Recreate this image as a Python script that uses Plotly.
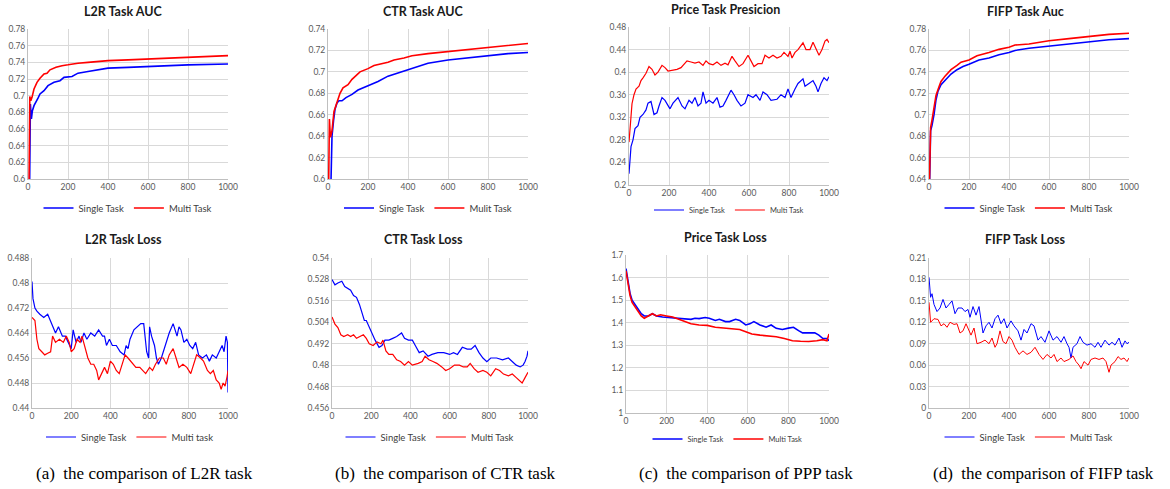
import plotly.graph_objects as go

W, H = 1170, 489

# ---------------- data ----------------
# (a) L2R AUC
l2r_auc_single_x = [8, 12, 17, 22, 30, 40, 50, 60, 80, 100, 130, 160, 180, 220, 250, 300, 350, 400, 500, 600, 700, 800, 1000]
l2r_auc_single_y = [0.59, 0.69, 0.672, 0.682, 0.688, 0.692, 0.697, 0.702, 0.706, 0.712, 0.716, 0.718, 0.722, 0.723, 0.727, 0.729, 0.731, 0.733, 0.734, 0.735, 0.736, 0.737, 0.738]
l2r_auc_multi_x = [5, 9, 14, 20, 30, 45, 60, 80, 95, 110, 140, 170, 200, 250, 300, 400, 500, 600, 700, 800, 1000]
l2r_auc_multi_y = [0.59, 0.699, 0.694, 0.698, 0.708, 0.716, 0.721, 0.726, 0.727, 0.731, 0.734, 0.736, 0.737, 0.739, 0.740, 0.742, 0.743, 0.744, 0.745, 0.746, 0.748]

# (b) CTR AUC
ctr_auc_single_x = [14, 20, 28, 35, 45, 55, 70, 90, 120, 150, 200, 250, 300, 350, 400, 450, 500, 600, 700, 800, 900, 1000]
ctr_auc_single_y = [0.59, 0.64, 0.655, 0.665, 0.671, 0.673, 0.673, 0.676, 0.679, 0.683, 0.687, 0.691, 0.696, 0.699, 0.702, 0.705, 0.708, 0.711, 0.713, 0.715, 0.717, 0.718]
ctr_auc_multi_x = [3, 7, 12, 20, 30, 45, 60, 75, 100, 120, 160, 200, 230, 300, 330, 380, 420, 500, 600, 700, 800, 900, 1000]
ctr_auc_multi_y = [0.59, 0.656, 0.639, 0.645, 0.663, 0.672, 0.680, 0.685, 0.688, 0.693, 0.700, 0.703, 0.706, 0.709, 0.711, 0.713, 0.715, 0.717, 0.719, 0.721, 0.723, 0.725, 0.7265]

# (c) Price precision
price_prec_single_x = [0, 10, 20, 30, 45, 55, 70, 85, 95, 110, 125, 140, 150, 165, 180, 195, 205, 220, 245, 265, 280, 300, 315, 330, 345, 360, 370, 385, 400, 420, 440, 455, 470, 485, 510, 525, 540, 560, 580, 595, 620, 635, 655, 670, 690, 710, 740, 760, 780, 795, 810, 830, 845, 870, 880, 900, 920, 935, 945, 960, 975, 990, 1000]
price_prec_single_y = [0.22, 0.268, 0.28, 0.30, 0.305, 0.32, 0.325, 0.333, 0.345, 0.348, 0.325, 0.328, 0.34, 0.355, 0.35, 0.34, 0.335, 0.345, 0.355, 0.34, 0.335, 0.35, 0.345, 0.355, 0.34, 0.345, 0.365, 0.345, 0.35, 0.345, 0.355, 0.338, 0.34, 0.35, 0.368, 0.36, 0.35, 0.34, 0.345, 0.36, 0.355, 0.36, 0.35, 0.365, 0.36, 0.35, 0.352, 0.36, 0.355, 0.37, 0.355, 0.37, 0.38, 0.388, 0.375, 0.38, 0.385, 0.375, 0.365, 0.38, 0.39, 0.385, 0.392]
price_prec_multi_x = [0, 15, 25, 35, 50, 60, 70, 85, 100, 115, 130, 145, 165, 180, 195, 220, 240, 260, 290, 310, 330, 350, 370, 385, 400, 420, 440, 460, 480, 495, 515, 530, 550, 570, 595, 610, 625, 645, 665, 680, 700, 720, 740, 760, 775, 795, 805, 815, 830, 845, 870, 885, 905, 920, 935, 950, 965, 980, 990, 1000]
price_prec_multi_y = [0.276, 0.344, 0.36, 0.37, 0.375, 0.385, 0.39, 0.398, 0.41, 0.405, 0.395, 0.40, 0.412, 0.408, 0.402, 0.404, 0.405, 0.408, 0.42, 0.418, 0.416, 0.418, 0.412, 0.42, 0.415, 0.413, 0.418, 0.412, 0.416, 0.413, 0.428, 0.42, 0.41, 0.415, 0.43, 0.42, 0.41, 0.415, 0.415, 0.43, 0.425, 0.43, 0.425, 0.428, 0.435, 0.428, 0.437, 0.425, 0.435, 0.44, 0.452, 0.44, 0.44, 0.453, 0.44, 0.43, 0.44, 0.455, 0.458, 0.452]

# (d) FIFP AUC
fifp_auc_single_x = [3, 8, 15, 25, 35, 45, 60, 80, 95, 110, 140, 170, 200, 250, 300, 350, 400, 430, 500, 600, 700, 800, 900, 1000]
fifp_auc_single_y = [0.635, 0.685, 0.69, 0.70, 0.714, 0.722, 0.728, 0.732, 0.734, 0.738, 0.742, 0.745, 0.747, 0.751, 0.753, 0.756, 0.758, 0.760, 0.762, 0.764, 0.766, 0.768, 0.770, 0.771]
fifp_auc_multi_x = [2, 8, 15, 25, 35, 50, 60, 80, 95, 110, 140, 160, 200, 240, 300, 350, 400, 430, 500, 600, 700, 800, 900, 1000]
fifp_auc_multi_y = [0.635, 0.688, 0.695, 0.705, 0.718, 0.726, 0.731, 0.736, 0.739, 0.742, 0.746, 0.749, 0.751, 0.755, 0.758, 0.761, 0.763, 0.765, 0.766, 0.769, 0.771, 0.773, 0.775, 0.776]

# (a) L2R loss
l2r_loss_single_x = [0, 5, 15, 25, 40, 60, 80, 100, 120, 135, 155, 170, 185, 200, 210, 225, 240, 250, 265, 280, 300, 320, 340, 360, 370, 380, 395, 410, 430, 450, 470, 480, 490, 500, 520, 540, 555, 570, 585, 595, 600, 610, 625, 635, 645, 660, 680, 700, 720, 730, 740, 750, 760, 775, 790, 805, 820, 835, 850, 870, 890, 905, 920, 940, 955, 970, 980, 990, 997, 1000]
l2r_loss_single_y = [0.4805, 0.475, 0.472, 0.471, 0.470, 0.469, 0.470, 0.467, 0.464, 0.466, 0.463, 0.463, 0.461, 0.459, 0.465, 0.461, 0.463, 0.461, 0.464, 0.462, 0.464, 0.463, 0.465, 0.463, 0.463, 0.460, 0.462, 0.460, 0.460, 0.458, 0.457, 0.460, 0.459, 0.462, 0.465, 0.466, 0.467, 0.467, 0.458, 0.456, 0.466, 0.463, 0.460, 0.456, 0.454, 0.456, 0.460, 0.464, 0.467, 0.465, 0.463, 0.466, 0.465, 0.461, 0.462, 0.460, 0.459, 0.461, 0.457, 0.456, 0.457, 0.455, 0.457, 0.456, 0.458, 0.460, 0.458, 0.463, 0.461, 0.445]
l2r_loss_multi_x = [0, 15, 25, 35, 50, 65, 80, 95, 105, 120, 140, 160, 175, 190, 200, 215, 230, 245, 255, 270, 285, 300, 315, 330, 340, 355, 370, 385, 400, 415, 430, 445, 460, 475, 490, 505, 530, 550, 565, 580, 600, 615, 630, 650, 670, 685, 700, 720, 735, 750, 770, 790, 810, 825, 840, 860, 875, 895, 910, 925, 940, 955, 965, 975, 985, 995, 1000]
l2r_loss_multi_y = [0.469, 0.468, 0.462, 0.459, 0.458, 0.457, 0.4575, 0.458, 0.463, 0.461, 0.462, 0.461, 0.463, 0.461, 0.458, 0.459, 0.462, 0.461, 0.463, 0.459, 0.456, 0.454, 0.454, 0.452, 0.449, 0.451, 0.453, 0.451, 0.455, 0.454, 0.452, 0.451, 0.454, 0.457, 0.456, 0.455, 0.453, 0.453, 0.452, 0.451, 0.453, 0.452, 0.454, 0.456, 0.456, 0.454, 0.457, 0.459, 0.456, 0.453, 0.454, 0.453, 0.451, 0.454, 0.457, 0.456, 0.455, 0.452, 0.451, 0.452, 0.449, 0.448, 0.446, 0.448, 0.447, 0.450, 0.452]

# (b) CTR loss
ctr_loss_single_x = [0, 15, 30, 50, 65, 80, 95, 110, 125, 140, 150, 165, 175, 190, 205, 220, 240, 255, 270, 290, 310, 330, 355, 370, 390, 410, 425, 445, 465, 490, 510, 540, 570, 600, 620, 640, 665, 690, 710, 730, 750, 770, 790, 810, 840, 870, 900, 920, 940, 960, 975, 985, 995, 1000]
ctr_loss_single_y = [0.528, 0.525, 0.526, 0.527, 0.524, 0.523, 0.522, 0.519, 0.518, 0.514, 0.510, 0.505, 0.505, 0.501, 0.497, 0.494, 0.490, 0.491, 0.494, 0.494, 0.495, 0.496, 0.498, 0.495, 0.494, 0.494, 0.491, 0.487, 0.488, 0.485, 0.486, 0.487, 0.487, 0.486, 0.487, 0.486, 0.490, 0.489, 0.489, 0.491, 0.487, 0.484, 0.482, 0.484, 0.484, 0.483, 0.484, 0.482, 0.480, 0.479, 0.480, 0.482, 0.485, 0.488]
ctr_loss_multi_x = [0, 15, 30, 45, 60, 80, 95, 110, 125, 140, 160, 175, 190, 210, 230, 250, 260, 275, 290, 310, 330, 350, 370, 390, 410, 440, 460, 475, 495, 515, 535, 560, 580, 600, 625, 650, 670, 690, 705, 725, 745, 770, 790, 810, 835, 855, 875, 900, 920, 940, 960, 970, 985, 1000]
ctr_loss_multi_y = [0.507, 0.503, 0.501, 0.497, 0.496, 0.497, 0.496, 0.497, 0.495, 0.496, 0.497, 0.495, 0.492, 0.491, 0.493, 0.492, 0.494, 0.488, 0.486, 0.486, 0.483, 0.482, 0.480, 0.482, 0.480, 0.481, 0.482, 0.485, 0.483, 0.482, 0.481, 0.479, 0.477, 0.478, 0.480, 0.480, 0.479, 0.479, 0.481, 0.478, 0.476, 0.477, 0.476, 0.474, 0.478, 0.477, 0.475, 0.474, 0.475, 0.473, 0.471, 0.470, 0.473, 0.476]

# (c) Price loss
price_loss_single_x = [0, 10, 20, 30, 45, 60, 75, 90, 110, 130, 150, 180, 210, 240, 270, 300, 320, 340, 360, 390, 410, 440, 460, 490, 510, 540, 560, 590, 610, 630, 660, 690, 715, 740, 770, 800, 825, 850, 870, 900, 930, 950, 970, 990, 1000]
price_loss_single_y = [1.64, 1.58, 1.53, 1.50, 1.48, 1.46, 1.44, 1.43, 1.43, 1.44, 1.43, 1.425, 1.423, 1.42, 1.418, 1.417, 1.415, 1.42, 1.418, 1.423, 1.42, 1.41, 1.415, 1.405, 1.405, 1.415, 1.41, 1.39, 1.395, 1.405, 1.39, 1.38, 1.39, 1.375, 1.37, 1.376, 1.38, 1.365, 1.355, 1.355, 1.355, 1.345, 1.33, 1.33, 1.32]
price_loss_multi_x = [0, 10, 20, 30, 45, 60, 75, 90, 110, 130, 150, 170, 200, 230, 260, 290, 320, 360, 400, 440, 480, 520, 560, 590, 620, 660, 700, 740, 780, 820, 860, 900, 940, 970, 990, 1000]
price_loss_multi_y = [1.63, 1.57, 1.52, 1.49, 1.47, 1.455, 1.43, 1.42, 1.43, 1.44, 1.43, 1.435, 1.43, 1.425, 1.415, 1.405, 1.395, 1.39, 1.388, 1.38, 1.377, 1.376, 1.37, 1.36, 1.35, 1.345, 1.342, 1.338, 1.33, 1.32, 1.318, 1.317, 1.32, 1.325, 1.32, 1.35]

# (d) FIFP loss
fifp_loss_single_x = [0, 8, 15, 25, 40, 55, 70, 85, 100, 115, 130, 145, 165, 180, 195, 205, 220, 235, 250, 260, 270, 285, 300, 315, 330, 345, 360, 375, 390, 410, 425, 445, 460, 475, 490, 510, 525, 545, 560, 580, 600, 620, 640, 660, 675, 690, 700, 710, 720, 740, 755, 770, 790, 810, 830, 845, 860, 880, 900, 915, 930, 950, 965, 980, 990, 1000]
fifp_loss_single_y = [0.183, 0.155, 0.16, 0.145, 0.135, 0.14, 0.152, 0.14, 0.145, 0.15, 0.132, 0.14, 0.14, 0.135, 0.138, 0.127, 0.142, 0.13, 0.142, 0.12, 0.105, 0.115, 0.12, 0.112, 0.125, 0.13, 0.118, 0.125, 0.112, 0.122, 0.115, 0.108, 0.095, 0.11, 0.105, 0.118, 0.115, 0.095, 0.10, 0.092, 0.108, 0.095, 0.10, 0.092, 0.10, 0.09, 0.085, 0.07, 0.085, 0.09, 0.10, 0.092, 0.088, 0.09, 0.085, 0.092, 0.085, 0.095, 0.088, 0.092, 0.088, 0.098, 0.085, 0.094, 0.09, 0.092]
fifp_loss_multi_x = [0, 8, 25, 45, 60, 75, 90, 105, 125, 140, 155, 170, 185, 200, 210, 225, 240, 260, 280, 300, 315, 330, 340, 355, 370, 385, 400, 415, 430, 450, 470, 490, 510, 530, 550, 570, 590, 610, 625, 640, 660, 675, 700, 720, 735, 750, 760, 775, 795, 810, 830, 850, 870, 885, 895, 900, 910, 930, 945, 960, 975, 990, 1000]
fifp_loss_multi_y = [0.148, 0.12, 0.125, 0.124, 0.115, 0.118, 0.113, 0.12, 0.117, 0.118, 0.105, 0.108, 0.118, 0.108, 0.102, 0.112, 0.09, 0.092, 0.095, 0.09, 0.098, 0.085, 0.09, 0.108, 0.093, 0.09, 0.10, 0.095, 0.085, 0.075, 0.08, 0.075, 0.078, 0.085, 0.075, 0.068, 0.075, 0.07, 0.075, 0.065, 0.07, 0.065, 0.068, 0.073, 0.065, 0.06, 0.055, 0.065, 0.06, 0.068, 0.07, 0.068, 0.07, 0.065, 0.055, 0.05, 0.06, 0.065, 0.072, 0.068, 0.07, 0.065, 0.07]

x_ticks = [0, 200, 400, 600, 800, 1000]

titles = ["L2R Task AUC", "CTR Task AUC", "Price Task Presicion", "FIFP Task Auc",
          "L2R Task Loss", "CTR Task Loss", "Price Task Loss", "FIFP Task Loss"]
single_names = ["Single Task"] * 8
multi_names = ["Multi Task", "Mulit Task", "Multi Task", "Multi Task",
               "Multi task", "Multi Task", "Multi Task", "Multi Task"]

y_ticks = [
    [0.6, 0.62, 0.64, 0.66, 0.68, 0.7, 0.72, 0.74, 0.76, 0.78],
    [0.6, 0.62, 0.64, 0.66, 0.68, 0.7, 0.72, 0.74],
    [0.2, 0.24, 0.28, 0.32, 0.36, 0.4, 0.44, 0.48],
    [0.64, 0.66, 0.68, 0.7, 0.72, 0.74, 0.76, 0.78],
    [0.44, 0.448, 0.456, 0.464, 0.472, 0.48, 0.488],
    [0.456, 0.468, 0.48, 0.492, 0.504, 0.516, 0.528, 0.54],
    [1, 1.1, 1.2, 1.3, 1.4, 1.5, 1.6, 1.7],
    [0, 0.03, 0.06, 0.09, 0.12, 0.15, 0.18, 0.21],
]
y_tick_text = [
    ["0.6", "0.62", "0.64", "0.66", "0.68", "0.7", "0.72", "0.74", "0.76", "0.78"],
    ["0.6", "0.62", "0.64", "0.66", "0.68", "0.7", "0.72", "0.74"],
    ["0.2", "0.24", "0.28", "0.32", "0.36", "0.4", "0.44", "0.48"],
    ["0.64", "0.66", "0.68", "0.7", "0.72", "0.74", "0.76", "0.78"],
    ["0.44", "0.448", "0.456", "0.464", "0.472", "0.48", "0.488"],
    ["0.456", "0.468", "0.48", "0.492", "0.504", "0.516", "0.528", "0.54"],
    ["1", "1.1", "1.2", "1.3", "1.4", "1.5", "1.6", "1.7"],
    ["0", "0.03", "0.06", "0.09", "0.12", "0.15", "0.18", "0.21"],
]
captions = ["(a)  the comparison of L2R task", "(b)  the comparison of CTR task",
            "(c)  the comparison of PPP task", "(d)  the comparison of FIFP task"]

series = [
    (l2r_auc_single_x, l2r_auc_single_y, l2r_auc_multi_x, l2r_auc_multi_y),
    (ctr_auc_single_x, ctr_auc_single_y, ctr_auc_multi_x, ctr_auc_multi_y),
    (price_prec_single_x, price_prec_single_y, price_prec_multi_x, price_prec_multi_y),
    (fifp_auc_single_x, fifp_auc_single_y, fifp_auc_multi_x, fifp_auc_multi_y),
    (l2r_loss_single_x, l2r_loss_single_y, l2r_loss_multi_x, l2r_loss_multi_y),
    (ctr_loss_single_x, ctr_loss_single_y, ctr_loss_multi_x, ctr_loss_multi_y),
    (price_loss_single_x, price_loss_single_y, price_loss_multi_x, price_loss_multi_y),
    (fifp_loss_single_x, fifp_loss_single_y, fifp_loss_multi_x, fifp_loss_multi_y),
]

# ---------------- layout (page pixels) ----------------
boxes = [
    (28, 228, 29, 179), (328, 528, 29, 179), (629, 829, 27, 185), (929, 1129, 29, 179),
    (32, 228, 258, 408), (332, 528, 258, 408), (626, 829, 255, 413), (929, 1129, 258, 408),
]
title_pos = [(123, 11), (423, 11), (725, 10), (1025, 11),
             (123, 239), (423, 239), (725, 238), (1025, 239)]
legend_y = [208, 208, 210, 208, 437, 437, 439, 437]
line_w = [1.6, 1.6, 1.2, 1.6, 1.2, 1.2, 1.6, 1.0]
legend_font = [9.5, 9.5, 7.5, 9.5, 9.5, 9.5, 7.5, 9.5]
caption_x = [144, 445, 746, 1043]


def px(x):
    return x / W


def py(y):
    return 1 - y / H


BLUE = "#0000ff"
RED = "#ff0000"
TICK_FONT = dict(family="Lato, Open Sans, sans-serif", size=8.5, color="#595959")

fig = go.Figure()
layout = dict(width=W, height=H, margin=dict(l=0, r=0, t=0, b=0), template="none",
              paper_bgcolor="white", plot_bgcolor="white", annotations=[])

for i in range(8):
    sx, sy, mx, my = series[i]
    k = i + 1
    xa = "x" if k == 1 else f"x{k}"
    ya = "y" if k == 1 else f"y{k}"
    lg = "legend" if k == 1 else f"legend{k}"
    fig.add_trace(go.Scatter(x=sx, y=sy, mode="lines", name=single_names[i],
                             line=dict(color=BLUE, width=line_w[i]),
                             xaxis=xa, yaxis=ya, legend=lg))
    fig.add_trace(go.Scatter(x=mx, y=my, mode="lines", name=multi_names[i],
                             line=dict(color=RED, width=line_w[i]),
                             xaxis=xa, yaxis=ya, legend=lg))
    x0, x1, yt, yb = boxes[i]
    xkey = "xaxis" if k == 1 else f"xaxis{k}"
    ykey = "yaxis" if k == 1 else f"yaxis{k}"
    layout[xkey] = dict(domain=[px(x0), px(x1)], anchor=ya, range=[0, 1000],
                        tickvals=x_ticks, ticks="", showgrid=True, gridcolor="#d9d9d9",
                        gridwidth=1, showline=True, linecolor="#bfbfbf", linewidth=1,
                        zeroline=False, tickfont=TICK_FONT, fixedrange=True,
                        automargin=False)
    layout[ykey] = dict(domain=[py(yb), py(yt)], anchor=xa,
                        range=[y_ticks[i][0], y_ticks[i][-1]],
                        tickvals=y_ticks[i], ticktext=y_tick_text[i], ticks="",
                        showgrid=True, gridcolor="#d9d9d9", gridwidth=1,
                        showline=True, linecolor="#bfbfbf", linewidth=1,
                        zeroline=False, tickfont=TICK_FONT, fixedrange=True,
                        automargin=False)
    layout[lg] = dict(orientation="h", x=px((x0 + x1) / 2), xanchor="center",
                      y=py(legend_y[i]), yanchor="middle",
                      font=dict(family="Lato, Open Sans, sans-serif", size=legend_font[i], color="#404040"),
                      bgcolor="rgba(0,0,0,0)", itemwidth=30, tracegroupgap=0)
    tx, ty = title_pos[i]
    layout["annotations"].append(dict(
        text=f"<b>{titles[i]}</b>", x=px(tx), y=py(ty), xref="paper", yref="paper",
        xanchor="center", yanchor="middle", showarrow=False,
        font=dict(family="Lato, Open Sans, sans-serif", size=12.5, color="#1a1a1a")))

for j in range(4):
    layout["annotations"].append(dict(
        text=captions[j], x=px(caption_x[j]), y=py(473), xref="paper", yref="paper",
        xanchor="center", yanchor="middle", showarrow=False,
        font=dict(family="Liberation Serif, DejaVu Serif, serif", size=17, color="#000000")))

fig.update_layout(**layout)
# remove the browser's default 8px body margin so the figure fills the window exactly
fig.write_html("out.html", config={"displayModeBar": False},
               post_script="document.body.style.margin='0';document.body.style.overflow='hidden';")
